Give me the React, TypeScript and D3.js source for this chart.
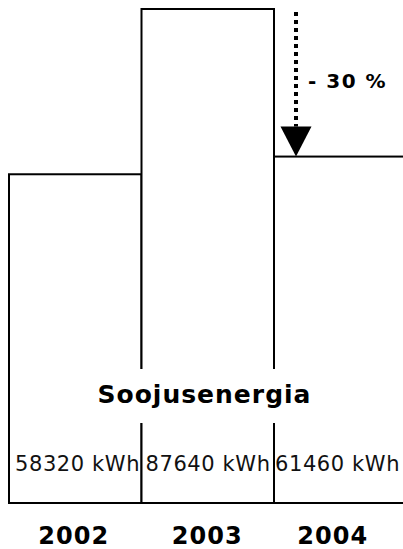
import React from 'react'
import * as d3 from 'd3'

const years = ['2002', '2003', '2004']
const energy = [58320, 87640, 61460]
const unit = 'kWh'
const title = 'Soojusenergia'
const changeLabel = '- 30 %'

const W = 403
const H = 549

export default function App() {
  const font = 'Verdana, "DejaVu Sans", sans-serif'
  const baseY = 503

  const x = d3.scaleBand<string>().domain(years).range([9, 406.5]).padding(0)
  const y = d3.scaleLinear().domain([0, d3.max(energy)!]).range([baseY, 9])

  const last = years.length - 1
  const prev = years.length - 2
  const arrowX = x(years[last])! + 22
  const arrowTop = y(energy[prev]) + 3
  const arrowTip = y(energy[last])
  const headH = 30
  const headW = 31

  // nudges so the labels sit where the reference has them
  const valueShift = [2, 0, -3]
  const yearShift = [-2, -1, -8]

  return (
    <div style={{ position: 'fixed', left: 0, top: 0 }}>
      <svg width={W} height={H} style={{ display: 'block', background: '#fff' }}>
        {/* bars */}
        {years.map((yr, i) => (
          <rect
            key={yr}
            x={x(yr)}
            y={y(energy[i])}
            width={x.bandwidth()}
            height={baseY - y(energy[i])}
            fill="#fff"
            stroke="#000"
            strokeWidth={2}
          />
        ))}
        <line x1={x(years[0])} x2={W} y1={baseY} y2={baseY} stroke="#000" strokeWidth={2} />

        {/* title with white backing */}
        <rect x={96} y={369} width={218} height={54} fill="#fff" />
        <text
          x={204.5}
          y={403}
          textAnchor="middle"
          fontFamily={font}
          fontWeight="bold"
          fontSize={25}
          letterSpacing={1}
        >
          {title}
        </text>

        {/* value labels */}
        {years.map((yr, i) => (
          <text
            key={yr}
            x={x(yr)! + x.bandwidth() / 2 + valueShift[i] + 0.3}
            y={471}
            textAnchor="middle"
            fontFamily={font}
            fontSize={21}
            letterSpacing={0.6}
            fill="#111"
          >
            {energy[i]} {unit}
          </text>
        ))}

        {/* year labels */}
        {years.map((yr, i) => (
          <text
            key={yr}
            x={x(yr)! + x.bandwidth() / 2 + yearShift[i] + 0.5}
            y={544}
            textAnchor="middle"
            fontFamily={font}
            fontWeight="bold"
            fontSize={24}
            letterSpacing={1}
          >
            {yr}
          </text>
        ))}

        {/* reduction arrow */}
        <line
          x1={arrowX}
          x2={arrowX}
          y1={arrowTop}
          y2={arrowTip - headH}
          stroke="#000"
          strokeWidth={4}
          strokeDasharray="4,4"
        />
        <path
          d={`M${arrowX - headW / 2},${arrowTip - headH} L${arrowX + headW / 2},${arrowTip - headH} L${arrowX},${arrowTip} Z`}
          fill="#000"
        />
        <text x={arrowX + 12} y={88} fontFamily={font} fontWeight="bold" fontSize={20} letterSpacing={1.5}>
          {changeLabel}
        </text>
      </svg>
    </div>
  )
}
